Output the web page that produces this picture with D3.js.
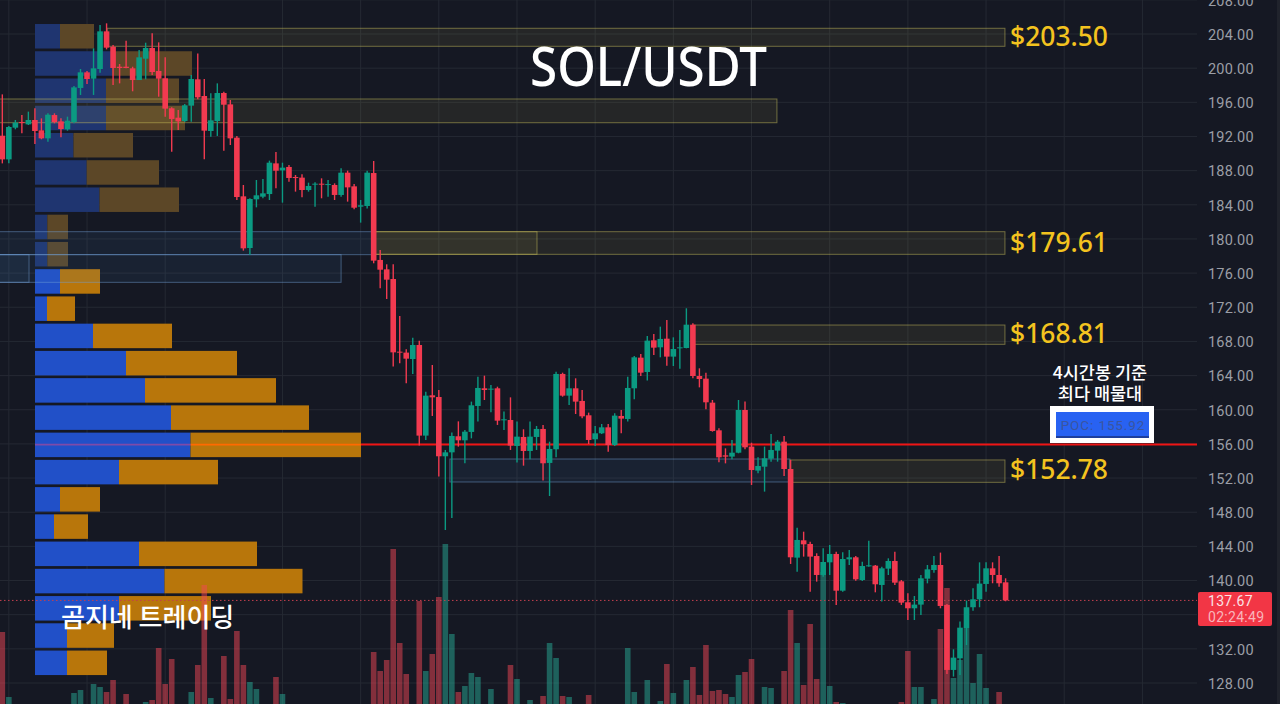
<!DOCTYPE html>
<html>
<head>
<meta charset="utf-8">
<script src="https://cdn.jsdelivr.net/npm/d3@7"></script>
<style>
    html, body { margin: 0; padding: 0; background: #151823; overflow: hidden; }
    svg { display: block; }
    .priceAxis text { font-family: Roboto, sans-serif; font-size: 14.5px; fill: #9b9ea6; letter-spacing: 0.2px; }
</style>
</head>
<body>
<div id="chart"></div>
<script>
// 4h candles
const opens = [192.09,189.32,193.03,193.69,193.42,193.93,192.72,191.78,194.51,193.77,192.84,193.69,197.68,199.51,198.77,199.9,204.31,202.52,200.17,200.17,199.98,198.61,201.11,202.36,199.67,198.81,195.3,194.2,193.81,195.61,198.69,196.74,192.64,193.81,197.09,195.76,191.86,184.99,178.94,184.64,184.95,185.26,188.85,188.03,188.43,187.25,187.18,185.73,186.36,186.47,186.32,186.32,185.15,187.76,186.16,183.78,183.86,187.72,
    177.54,176.44,175.31,166.8,166.69,165.94,167.58,156.97,161.69,161.49,154.55,155.01,156.89,156.42,157.4,160.44,162.51,162.35,162.51,158.76,158.8,155.76,156.81,155.17,156.81,157.75,153.77,155.37,164.19,161.65,162.51,161.03,159.35,156.54,157.24,157.94,155.87,159.27,158.92,162.51,166.1,164.42,168.13,167.31,168.32,166.22,167.19,167.23,169.96,
    163.95,163.64,160.83,157.59,154.66,154.51,154.97,159.97,155.68,152.87,153.33,154.27,155.21,156.26,153.06,142.68,144.71,144.28,142.87,140.65,142.13,143.11,138.81,142.48,142.72,140.06,141.66,141.74,139.48,141.39,142.29,139.91,137.45,136.75,137.18,140.22,141.23,141.82,137.14,129.53,130.89,134.44,136.87,137.8,139.6,141.43,140.65,139.79];
const closes = [189.32,193.11,193.62,193.58,193.93,192.64,191.78,194.55,193.69,192.87,193.85,197.75,199.51,198.73,199.98,204.31,202.4,200.02,200.02,200.02,198.61,201.27,202.36,199.55,198.77,195.26,194.05,193.77,195.65,198.73,196.58,192.68,193.89,197.09,195.72,191.78,184.91,178.9,184.68,185.11,185.34,188.93,187.99,188.35,187.14,187.14,185.73,186.2,186.47,186.36,186.43,185.15,187.76,186.04,183.66,183.94,187.76,177.46,
    176.4,175.23,166.72,166.69,165.98,167.58,156.97,161.65,161.45,154.55,155.01,156.93,156.42,157.43,160.52,162.55,162.31,162.47,158.72,158.88,155.8,156.85,155.17,156.85,157.75,153.73,155.41,164.19,161.65,162.51,160.95,159.23,156.46,157.24,157.94,155.87,159.31,158.96,162.55,166.14,164.34,168.09,167.27,168.29,166.22,167.11,167.31,169.96,163.95,
    163.6,160.87,157.51,154.43,154.51,154.97,159.97,155.6,152.94,153.41,154.31,155.29,156.26,153.06,142.72,144.75,144.24,142.8,140.65,142.17,143.11,138.81,142.52,142.72,140.14,141.7,141.78,139.56,141.43,142.29,139.75,137.41,136.75,137.18,140.26,141.31,141.82,137.02,129.53,130.97,134.48,136.87,137.8,139.64,141.43,140.65,139.68,137.67];
const highs = [196.93,193.23,193.93,194.51,194.91,195.3,194.12,194.71,194.71,194.12,194.32,197.91,199.9,199.67,202.32,205.05,205.25,202.71,200.49,203.22,200.17,202.13,202.98,204.08,203.02,201.27,195.41,195.1,195.8,199.2,201.73,198.73,197.05,198.22,197.25,196.27,192.06,186.32,184.76,186.9,187.02,189.17,190.18,188.93,188.66,187.49,187.57,186.59,186.63,187.1,186.9,186.51,188.27,188,186.43,184.56,188,189.13,
    178.71,177.03,177.03,170.98,167.08,168.44,168.09,162.12,165.24,162.31,155.29,157.32,158.64,157.63,160.95,163.87,163.99,162.9,162.7,159.78,161.45,158.61,157.71,158.61,158.1,158.22,156.26,164.46,164.34,164.85,163.68,162.31,159.66,158.1,158.33,158.33,159.58,159.97,163.87,166.29,166.53,168.64,168.87,169.73,170.51,168.48,169.34,171.88,170.12,
    164.85,164.34,161.14,157.82,155.48,156.46,161.14,160.95,156.14,154.43,155.68,157.16,156.46,156.93,154.12,146.19,145.72,144.55,143.19,143.77,144.16,143.38,143.3,143.58,142.87,142.21,144.67,141.82,141.62,142.6,143.38,140.06,138.5,138.19,140.65,141.82,142.87,143.27,137.25,131.95,135.19,137.65,139.09,142.13,142.13,142.13,142.88,140.26];
const lows = [188.85,188.85,192.84,192.37,193.34,191.12,191.67,191.39,193.54,191.9,192.68,193.54,196.86,198.14,196.86,199.47,202.2,198.03,198.22,199.98,197.29,198.61,198.69,199.2,196.66,194.32,190.22,192.76,193.69,193.73,196.35,189.32,191.98,192.06,190.34,191.0,184.56,178.63,178.12,183.7,184.76,184.56,185.93,184.25,186.71,185.54,184.87,185.54,183.78,184.76,184.95,184.56,184.95,184.37,183.47,181.91,183.58,177.15,
    174.22,172.97,165.05,165.44,163.09,164.19,155.8,156.46,159.27,152.17,145.92,147.33,155.68,153.73,156.65,158.61,161.14,159.7,158.22,157.63,155.29,153.81,153.45,154.2,155.29,151.7,149.9,154.43,161.53,160.56,159.5,159.0,155.99,155.76,157.16,155.09,155.76,157.24,158.61,161.22,163.95,163.41,166.41,166.14,165.16,165.12,164.81,167.19,163.68,
    162.62,160.05,157.43,153.84,153.72,154.2,154.9,155.36,151.19,152.55,150.41,153.92,153.92,152.24,141.94,141.04,142.8,138.7,139.87,140.45,140.65,137.14,138.7,141.82,139.98,139.95,141.62,138.62,137.53,140.65,139.48,137.14,135.38,135.38,135.96,139.67,140.92,136.75,129.06,128.75,128.94,132.45,136.47,136.87,138.7,139.68,139.28,137.57];
const volumes = [88,23,0,0,0,0,0,0,0,0,0,27,30,0,36,33,28,40,0,26,0,0,18,20,72,36,61,0,0,28,55,135,22,0,64,21,89,55,38,31,0,0,43,26,0,0,0,0,0,0,0,0,0,0,0,0,0,
    68,49,60,171,77,46,0,119,49,66,123,176,86,28,34,47,43,0,31,0,0,55,41,0,20,0,24,77,62,24,23,0,0,25,0,0,0,0,0,72,28,0,40,0,19,56,27,0,
    40,53,25,75,29,30,26,23,45,48,61,0,33,32,0,49,110,77,35,96,41,148,34,18,17,0,0,0,0,0,0,0,0,18,69,33,33,0,21,91,132,42,60,92,37,66,32,0,28,0];

const priceTicks = [208,204,200,196,192,188,184,180,176,172,168,164,160,156,152,148,144,140,136,132,128];
const timeTicks = [1,13,25,43,55,67,79,91,103,115,127,139,151,163,175];

// volume profile rows, top row first
const profileBuy = [25,77,71,71,38.5,51.7,64.5,12.3,12.3,25,12,58,91,110,136,155.5,84,25,19,104,129.5,84,32,32];
const profileSell = [34,80,73,79,59.5,72.3,79.5,20.7,20.7,40,28,79,111,131,138,170.5,99,40,34,118,138,92,47,40];

// supply zones (start / end in candle index, top / bottom in price)
const zoneStart = [16.1,-1,57.2,106,120.9,57.2];
const zoneEnd = [153.9,118.9,153.9,153.9,153.9,82.07];
const zoneTop = [204.67,196.39,180.85,169.92,154.12,180.85];
const zoneBottom = [202.56,193.61,178.2,167.66,151.5,178.2];
const blueStart = [-1,-1,-1,68.7];
const blueEnd = [57.2,52,4.1,120.9];
const blueTop = [180.85,178.16,178.16,154.23];
const blueBottom = [178.16,174.92,174.92,151.54];

const levelLabels = ["$203.50","$179.61","$168.81","$152.78"];
const levelPrices = [203.65,179.5,168.9,153.0];
const pocPrice = 155.92;
const lastPrice = 137.67;

const width = 1280, height = 704, paneRight = 1197;

const y = d3.scaleLinear().domain([204, 128]).range([34, 683]);
const x = d3.scaleLinear().domain([0, 154]).range([2.33, 1005.6]);
const yVolume = d3.scaleLinear().domain([0, 200]).range([720, 520]);
const xProfile = d3.scaleLinear().domain([0, 326]).range([35, 361]);
const yRow = d3.scaleBand().domain(d3.range(profileBuy.length)).range([y(205.17), y(128.93)]).paddingInner(0.1);

const color = i => closes[i] >= opens[i] ? "#0b9a82" : "#f23a50";

const svg = d3.select("#chart").append("svg").attr("width", width).attr("height", height);
svg.append("rect").attr("width", width).attr("height", height).attr("fill", "#151823");
svg.append("rect").attr("x", 1277).attr("width", 3).attr("height", height).attr("fill", "#20232c");

// grid
svg.append("g").selectAll("line").data(priceTicks).join("line")
    .attr("x1", 0).attr("x2", paneRight)
    .attr("y1", d => y(d)).attr("y2", d => y(d))
    .attr("stroke", "#252933").attr("stroke-width", 1);
svg.append("g").selectAll("line").data(timeTicks).join("line")
    .attr("x1", d => x(d)).attr("x2", d => x(d))
    .attr("y1", 0).attr("y2", height)
    .attr("stroke", "#252933").attr("stroke-width", 1);

// volume profile
const profile = svg.append("g");
profile.selectAll(".buy").data(profileBuy).join("rect")
    .attr("class", "buy")
    .attr("x", xProfile(0))
    .attr("y", (d, i) => yRow(i))
    .attr("width", d => xProfile(d) - xProfile(0))
    .attr("height", yRow.bandwidth())
    .attr("fill", (d, i) => i < 9 ? "#1f3570" : "#2150c8");
profile.selectAll(".sell").data(profileSell).join("rect")
    .attr("class", "sell")
    .attr("x", (d, i) => xProfile(profileBuy[i]))
    .attr("y", (d, i) => yRow(i))
    .attr("width", d => xProfile(d) - xProfile(0))
    .attr("height", yRow.bandwidth())
    .attr("fill", (d, i) => i < 9 ? "#5c4727" : "#b8760b");

// volume bars
svg.append("g").selectAll("rect").data(volumes).join("rect")
    .attr("x", (d, i) => x(i) - 2.8)
    .attr("y", d => yVolume(d))
    .attr("width", 5.6)
    .attr("height", d => yVolume(0) - yVolume(d))
    .attr("fill", (d, i) => closes[i] >= opens[i] ? "rgba(40,170,150,0.5)" : "rgba(242,70,85,0.5)");

// zones
svg.append("g").selectAll("rect").data(blueStart).join("rect")
    .attr("x", d => x(d))
    .attr("y", (d, i) => y(blueTop[i]))
    .attr("width", (d, i) => x(blueEnd[i]) - x(d))
    .attr("height", (d, i) => y(blueBottom[i]) - y(blueTop[i]))
    .attr("fill", "rgba(70,125,185,0.10)")
    .attr("stroke", "rgba(115,160,215,0.48)");
svg.append("g").selectAll("rect").data(zoneStart).join("rect")
    .attr("x", d => x(d))
    .attr("y", (d, i) => y(zoneTop[i]))
    .attr("width", (d, i) => x(zoneEnd[i]) - x(d))
    .attr("height", (d, i) => y(zoneBottom[i]) - y(zoneTop[i]))
    .attr("fill", "rgba(195,185,90,0.09)")
    .attr("stroke", "rgba(205,195,95,0.48)");

// last price line
svg.append("line")
    .attr("x1", 0).attr("x2", paneRight)
    .attr("y1", y(lastPrice)).attr("y2", y(lastPrice))
    .attr("stroke", "#c2404e").attr("stroke-dasharray", "1.5 2.5");

// POC line, it shifts colour where it crosses the profile
const pocRow = 15;
const pocEnd = profileBuy[pocRow] + profileSell[pocRow];
svg.append("line")
    .attr("x1", xProfile(pocEnd)).attr("x2", paneRight)
    .attr("y1", y(pocPrice)).attr("y2", y(pocPrice))
    .attr("stroke", "#f01414").attr("stroke-width", 2);
svg.append("line")
    .attr("x1", xProfile(profileBuy[pocRow])).attr("x2", xProfile(pocEnd))
    .attr("y1", y(pocPrice)).attr("y2", y(pocPrice))
    .attr("stroke", "#ff6a00").attr("stroke-width", 1.6);
svg.append("line")
    .attr("x1", xProfile(0)).attr("x2", xProfile(profileBuy[pocRow]))
    .attr("y1", y(pocPrice)).attr("y2", y(pocPrice))
    .attr("stroke", "#7f4aa8").attr("stroke-width", 1.6);

// candles
const candles = svg.append("g");
candles.selectAll("line").data(highs).join("line")
    .attr("x1", (d, i) => x(i)).attr("x2", (d, i) => x(i))
    .attr("y1", d => y(d))
    .attr("y2", (d, i) => y(lows[i]))
    .attr("stroke", (d, i) => color(i))
    .attr("stroke-width", 1.4);
candles.selectAll("rect").data(opens).join("rect")
    .attr("x", (d, i) => x(i) - 2.8)
    .attr("y", (d, i) => y(Math.max(d, closes[i])))
    .attr("width", 5.6)
    .attr("height", (d, i) => Math.max(1, Math.abs(y(d) - y(closes[i]))))
    .attr("fill", (d, i) => color(i));

// price axis
const priceAxis = svg.append("g")
    .attr("class", "priceAxis")
    .attr("transform", "translate(1200,0.7)")
    .call(d3.axisRight(y).tickValues(priceTicks).tickFormat(d3.format(".2f")).tickSize(0).tickPadding(8));
priceAxis.select(".domain").remove();

// last price tag
svg.append("rect")
    .attr("x", 1198).attr("y", 592).attr("width", 74).attr("height", 34).attr("rx", 2)
    .attr("fill", "#f23645");
const lastTag = svg.append("text")
    .attr("font-family", "Roboto, sans-serif").attr("font-size", 14).attr("letter-spacing", 0.3);
lastTag.append("tspan").attr("x", 1208).attr("y", 606)
    .attr("fill", "#fbe3e5").text(d3.format(".2f")(lastPrice));
lastTag.append("tspan").attr("x", 1208).attr("y", 622)
    .attr("fill", "#f9b5bb").text("02:24:49");

// POC badge
svg.append("rect").attr("x", 1050).attr("y", 406).attr("width", 104).attr("height", 37).attr("fill", "#ffffff");
svg.append("rect").attr("x", 1056).attr("y", 412).attr("width", 93).attr("height", 26).attr("fill", "#2862f2");
svg.append("rect").attr("x", 1056).attr("y", 436).attr("width", 93).attr("height", 2).attr("fill", "#1f3f9c");
svg.append("text").attr("x", 1103).attr("y", 430).attr("text-anchor", "middle")
    .attr("font-family", "Roboto, sans-serif").attr("font-size", 13.5).attr("letter-spacing", 0.9)
    .attr("fill", "#3a55a0").text("POC: " + pocPrice);

// annotations
svg.append("g").selectAll("text").data(levelLabels).join("text")
    .attr("x", 1010)
    .attr("y", (d, i) => y(levelPrices[i]) + 9)
    .attr("font-family", "'Noto Sans', sans-serif")
    .attr("font-size", 27).attr("font-weight", 500)
    .attr("textLength", 98).attr("lengthAdjust", "spacingAndGlyphs")
    .attr("fill", "#f3c31f")
    .text(d => d);
svg.append("text").attr("x", 530).attr("y", 86)
    .attr("font-family", "'Noto Sans', sans-serif")
    .attr("font-size", 55).attr("font-weight", 500)
    .attr("textLength", 237).attr("lengthAdjust", "spacingAndGlyphs")
    .attr("fill", "#ffffff").text("SOL/USDT");
svg.append("text").attr("x", 61).attr("y", 627)
    .attr("font-family", "'Noto Sans CJK KR', sans-serif")
    .attr("font-size", 26).attr("font-weight", 500)
    .attr("fill", "#ffffff").text("곰지네 트레이딩");
const pocNote = svg.append("text")
    .attr("text-anchor", "middle")
    .attr("font-family", "'Noto Sans CJK KR', sans-serif")
    .attr("font-size", 17.5).attr("font-weight", 500)
    .attr("fill", "#ffffff");
pocNote.append("tspan").attr("x", 1100).attr("y", 379).text("4시간봉 기준");
pocNote.append("tspan").attr("x", 1100).attr("y", 400).text("최다 매물대");
</script>
</body>
</html>
